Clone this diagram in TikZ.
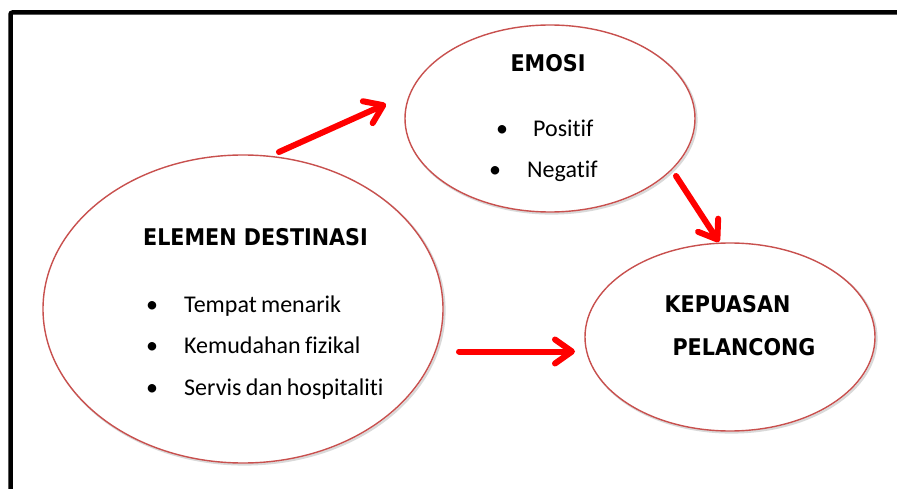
\documentclass[tikz,border=0pt]{standalone}
\usepackage{fontspec}
\setmainfont{Carlito}[Ligatures=NoCommon, WordSpace=0.8]
\newfontfamily\headfont{DejaVu Sans Condensed Bold}
\usetikzlibrary{shapes.geometric,arrows.meta}
\definecolor{ovalred}{RGB}{200,80,78}
\tikzset{
  oval/.style={ellipse, draw=ovalred, line width=1.4pt, inner sep=0pt, fill=white},
  ovalshadow/.style={ellipse, draw=black!15, line width=2.2pt, inner sep=0pt},
  head/.style={font=\headfont\fontsize{23}{27}\selectfont, inner sep=0pt, anchor=base},
  item/.style={font=\fontsize{24}{28}\selectfont, inner sep=0pt, anchor=base west},
  redarrow/.style={draw=red, line width=6pt, line cap=round,
    -{Straight Barb[round, length=17pt, width=24pt]}}
}
\begin{document}
\begin{tikzpicture}[x=1pt,y=-1pt]
\useasboundingbox (0,0) rectangle (897,489);
\clip (0,0) rectangle (897,489);
\fill[white] (0,0) rectangle (897,489);
\draw[line width=4.5pt, rounded corners=2pt] (10.5,12.5) rectangle (915,505);

% shadows
\node[ovalshadow, minimum width=290pt, minimum height=187pt] (emosiS) at (551.5,120) {};
\node[ovalshadow, minimum width=400pt, minimum height=308pt] (elemenS) at (244.5,310.5) {};
\node[ovalshadow, minimum width=290pt, minimum height=188pt] (kepuasanS) at (731.5,338.5) {};

% ovals
\node[oval, minimum width=290pt, minimum height=187pt] (emosi) at (550,118.5) {};
\node[oval, minimum width=400pt, minimum height=308pt] (elemen) at (243,309) {};
\node[oval, minimum width=290pt, minimum height=188pt] (kepuasan) at (730,337) {};

% texts
\node[head] (tEmosi) at (548,72) {EMOSI};
\node[item] (b1) at (496,137) {•};
\node[item] (tPos) at (533,137) {Positif};
\node[item] (b2) at (489,178) {•};
\node[item] (tNeg) at (527,178) {Negatif};

\node[head] (tElemen) at (255.5,246) {ELEMEN DESTINASI};
\node[item] (b3) at (146,312) {•};
\node[item] (tTempat) at (184,312) {Tempat menarik};
\node[item] (b4) at (146,353) {•};
\node[item] (tKemudahan) at (184,353) {Kemudahan fizikal};
\node[item] (b5) at (146,395) {•};
\node[item] (tServis) at (184,395) {Servis dan hospitaliti};

\node[head] (tKep) at (727.5,312) {KEPUASAN};
\node[head] (tPel) at (744,355) {PELANCONG};

% arrows
\coordinate (a1s) at (279,152);
\coordinate (a1e) at (386,104);
\coordinate (a2s) at (459,351.5);
\coordinate (a2e) at (575,351.5);
\coordinate (a3s) at (676,176);
\coordinate (a3e) at (719,242);
\draw[redarrow] (a1s) -- (a1e);
\draw[redarrow] (a2s) -- (a2e);
\draw[redarrow] (a3s) -- (a3e);
\end{tikzpicture}
\end{document}
